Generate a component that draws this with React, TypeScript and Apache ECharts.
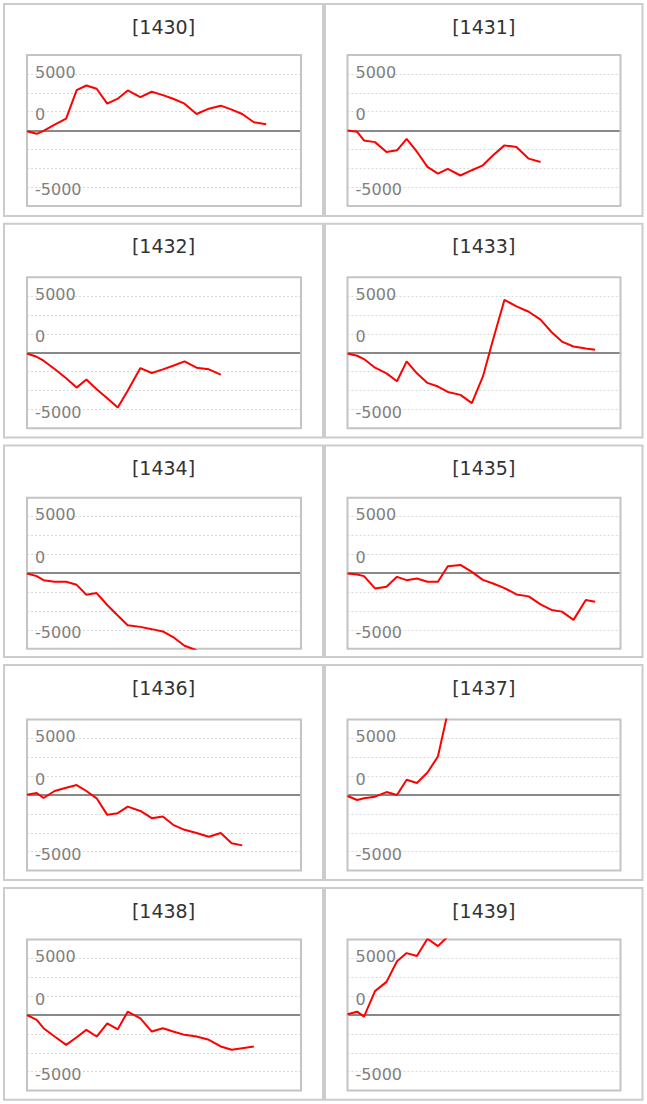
import React, { useEffect, useRef } from 'react';
import * as echarts from 'echarts';

// ---------------- data ----------------
const codes = ['1430', '1431', '1432', '1433', '1434', '1435', '1436', '1437', '1438', '1439'];

// shared x positions of the samples (axis runs 0..24)
const timeSlots = [0, 0.85, 1.45, 2.42, 3.43, 4.35, 5.2, 6.1, 7.03, 7.95, 8.82, 9.93, 10.93, 11.9, 12.8, 13.8, 14.85, 15.93, 16.97, 17.93, 18.85, 19.87, 20.95, 21.77];

const s1430 = [-90, -440, -40, 790, 1580, 5350, 5960, 5530, 3550, 4210, 5310, 4430, 5130, 4690, 4210, 3550, 2190, 2890, 3290, 2760, 2190, 1100, 830];
const s1431 = [0, -175, -1320, -1540, -2850, -2630, -1100, -2810, -4820, -5700, -5090, -5960, -5260, -4610, -3290, -1970, -2190, -3730, -4170];
const s1432 = [-90, -530, -1050, -2150, -3380, -4610, -3550, -4820, -6010, -7240, -5040, -2020, -2680, -2190, -1710, -1140, -1970, -2190, -2890];
const s1433 = [-90, -390, -830, -1970, -2720, -3770, -1140, -2720, -3990, -4470, -5180, -5570, -6670, -3160, 1750, 7020, 6140, 5440, 4390, 2760, 1490, 830, 570, 390];
const s1434 = [-40, -390, -920, -1140, -1140, -1540, -2850, -2630, -4210, -5610, -6890, -7110, -7410, -7720, -8460, -9610, -10200];
const s1435 = [-40, -180, -390, -2020, -1800, -480, -920, -700, -1140, -1140, 920, 1100, 180, -880, -1360, -1970, -2810, -3070, -4120, -4870, -5090, -6180, -3550, -3770];
const s1436 = [40, 260, -400, 530, 960, 1320, 530, -440, -2630, -2410, -1540, -2110, -3070, -2850, -3950, -4610, -5040, -5530, -5040, -6400, -6670];
const s1437 = [-130, -660, -440, -220, 390, 0, 2020, 1580, 2980, 5090, 11000];
const s1438 = [0, -660, -1750, -2850, -3950, -2940, -1970, -2850, -1100, -1890, 440, -440, -2190, -1750, -2190, -2630, -2850, -3290, -4170, -4610, -4390, -4170];
const s1439 = [90, 440, -220, 3160, 4390, 7110, 8200, 7810, 10100, 9120, 10400];

const seriesValues = [s1430, s1431, s1432, s1433, s1434, s1435, s1436, s1437, s1438, s1439];

const yTickValues = [5000, 0, -5000];
const yTickLabels = ['5000', '0', '-5000'];

// ---------------- layout ----------------
const FONT = '"DejaVu Sans", Verdana, sans-serif';
const gridCols = [
  { left: 27, width: 274 },
  { left: 347.5, width: 273 },
];
const gridTops = [55, 277.3, 497.7, 719.5, 939.5];
const GRID_H = 151;
const panelCols = [
  { x: 4, w: 319 },
  { x: 325, w: 317.5 },
];
const panelRows = [
  [4, 216],
  [223.7, 437.5],
  [445.5, 657],
  [665, 880],
  [888, 1099.8],
];

function buildOption() {
  const grids: any[] = [];
  const xAxes: any[] = [];
  const yAxes: any[] = [];
  const series: any[] = [];
  const graphics: any[] = [];
  const labelBase = { fontSize: 16, fontFamily: FONT, color: '#808080' };

  codes.forEach((code, i) => {
    const col = i % 2;
    const row = Math.floor(i / 2);
    const gc = gridCols[col];
    const top = gridTops[row];
    grids.push({ left: gc.left, top, width: gc.width, height: GRID_H, show: false, containLabel: false });
    xAxes.push({
      type: 'value',
      gridIndex: i,
      min: 0,
      max: 24,
      axisLine: { show: true, onZero: true, lineStyle: { color: '#888888', width: 2 } },
      axisTick: { show: false },
      axisLabel: { show: false },
      splitLine: { show: false },
    });
    yAxes.push({
      type: 'value',
      gridIndex: i,
      min: -10000,
      max: 10000,
      interval: 2500,
      axisLine: { show: false },
      axisTick: { show: false },
      splitLine: { show: true, lineStyle: { color: '#d8d8d8', width: 1, type: [2, 2] } },
      axisLabel: {
        inside: true,
        margin: 8,
        ...labelBase,
        formatter: (v: number) => {
          const k = yTickValues.indexOf(v);
          if (k < 0) return '';
          const tag = k === 0 ? 'p' : k === 1 ? 'z' : 'n';
          return `{${tag}|${yTickLabels[k]}}`;
        },
        rich: {
          p: { ...labelBase, padding: [0, 0, 41, 0] },
          z: { ...labelBase, padding: [0, 0, 32, 0] },
          n: { ...labelBase, padding: [43, 0, 0, 0] },
        },
      },
    });
    const vals = seriesValues[i];
    series.push({
      type: 'line',
      name: code,
      xAxisIndex: i,
      yAxisIndex: i,
      data: vals.map((v, k) => [timeSlots[k], v]),
      symbol: 'none',
      clip: true,
      lineStyle: { color: '#ff0000', width: 2 },
      z: 3,
    });

    // plot-area border
    graphics.push({
      type: 'rect',
      z: 1,
      silent: true,
      shape: { x: gc.left, y: top, width: gc.width, height: GRID_H },
      style: { fill: 'none', stroke: '#c4c4c4', lineWidth: 2 },
    });
    // panel border
    const pc = panelCols[col];
    const pr = panelRows[row];
    graphics.push({
      type: 'rect',
      z: 0,
      silent: true,
      shape: { x: pc.x, y: pr[0], width: pc.w, height: pr[1] - pr[0] },
      style: { fill: 'none', stroke: '#cccccc', lineWidth: 2 },
    });
    // panel title
    graphics.push({
      type: 'text',
      z: 1,
      silent: true,
      x: pc.x + pc.w / 2,
      y: pr[0] + 22.5,
      style: {
        text: `[${code}]`,
        fill: '#333333',
        font: `19px ${FONT}`,
        textAlign: 'center',
        textVerticalAlign: 'middle',
        align: 'center',
        verticalAlign: 'middle',
      },
    });
  });

  return {
    animation: false,
    backgroundColor: '#ffffff',
    grid: grids,
    xAxis: xAxes,
    yAxis: yAxes,
    series,
    graphic: { elements: graphics },
  };
}

export default function App() {
  const ref = useRef<HTMLDivElement>(null);
  useEffect(() => {
    if (!ref.current) return;
    const chart = echarts.init(ref.current, null, { renderer: 'svg' });
    chart.setOption(buildOption() as any);
    return () => chart.dispose();
  }, []);
  return (
    <div
      ref={ref}
      style={{ position: 'absolute', left: 0, top: 0, width: 647, height: 1104, background: '#fff' }}
    />
  );
}
